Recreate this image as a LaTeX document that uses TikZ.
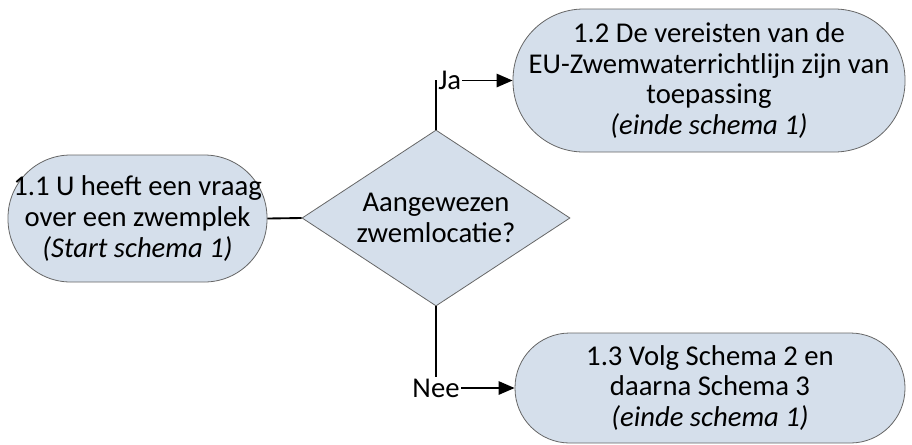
\documentclass[tikz,border=0pt]{standalone}
\usepackage{fontspec}
\setmainfont{Carlito}
\usepackage{tikz}
\usetikzlibrary{arrows.meta,shapes.geometric,positioning}
\definecolor{zwemblue}{RGB}{213,223,235}
\tikzset{
  schema terminal/.style={rectangle,draw=black!60,fill=zwemblue,
    line width=0.6pt,align=center,inner sep=0pt,
    font=\fontsize{21.5}{23}\selectfont},
  schema decision/.style={diamond,draw=black!60,fill=zwemblue,
    line width=0.6pt,align=center,inner sep=0pt,aspect=1.52,
    minimum width=201pt,minimum height=132pt,
    font=\fontsize{21.5}{23}\selectfont},
  schema line/.style={line width=1.4pt},
  schema edge/.style={-{Triangle[length=12pt,width=10pt]},line width=1.4pt},
  schema label/.style={fill=white,inner sep=1pt,
    font=\fontsize{21.5}{23}\selectfont}
}
\begin{document}
\begin{tikzpicture}[x=0.75pt,y=-0.75pt]
    \useasboundingbox (0,0) rectangle (912,444);
    \coordinate (schema1) at (137.5,218.5);
    \coordinate (schemaQ) at (436,218);
    \coordinate (schema2) at (709,80.5);
    \coordinate (schema3) at (710,388);
    \node[schema terminal,minimum width=194.25pt,minimum height=95.25pt,
      rounded corners=47pt] (start) at (schema1)
      {1.1 U heeft een vraag\\over een zwemplek\\\textit{(Start schema 1)}};
    \node[schema decision] (zwemlocatie) at (schemaQ)
      {Aangewezen\\zwemlocatie?};
    \node[schema terminal,minimum width=294pt,minimum height=107.25pt,
      rounded corners=53pt] (eurichtlijn) at (schema2)
      {1.2 De vereisten van de\\EU-Zwemwaterrichtlijn zijn van\\toepassing\\\textit{(einde schema 1)}};
    \node[schema terminal,minimum width=292.5pt,minimum height=82.5pt,
      rounded corners=41pt] (volgschema) at (schema3)
      {1.3 Volg Schema 2 en\\daarna Schema 3\\\textit{(einde schema 1)}};
    \draw[schema line] (start.east) -- (zwemlocatie.west);
    \draw[schema edge] (zwemlocatie.north) |-
      node[schema label,anchor=west,pos=0.5] {Ja} (eurichtlijn.west);
    \draw[schema edge] (zwemlocatie.south) |-
      node[schema label,pos=0.5] {Nee} (volgschema.west);
  \end{tikzpicture}
\end{document}
